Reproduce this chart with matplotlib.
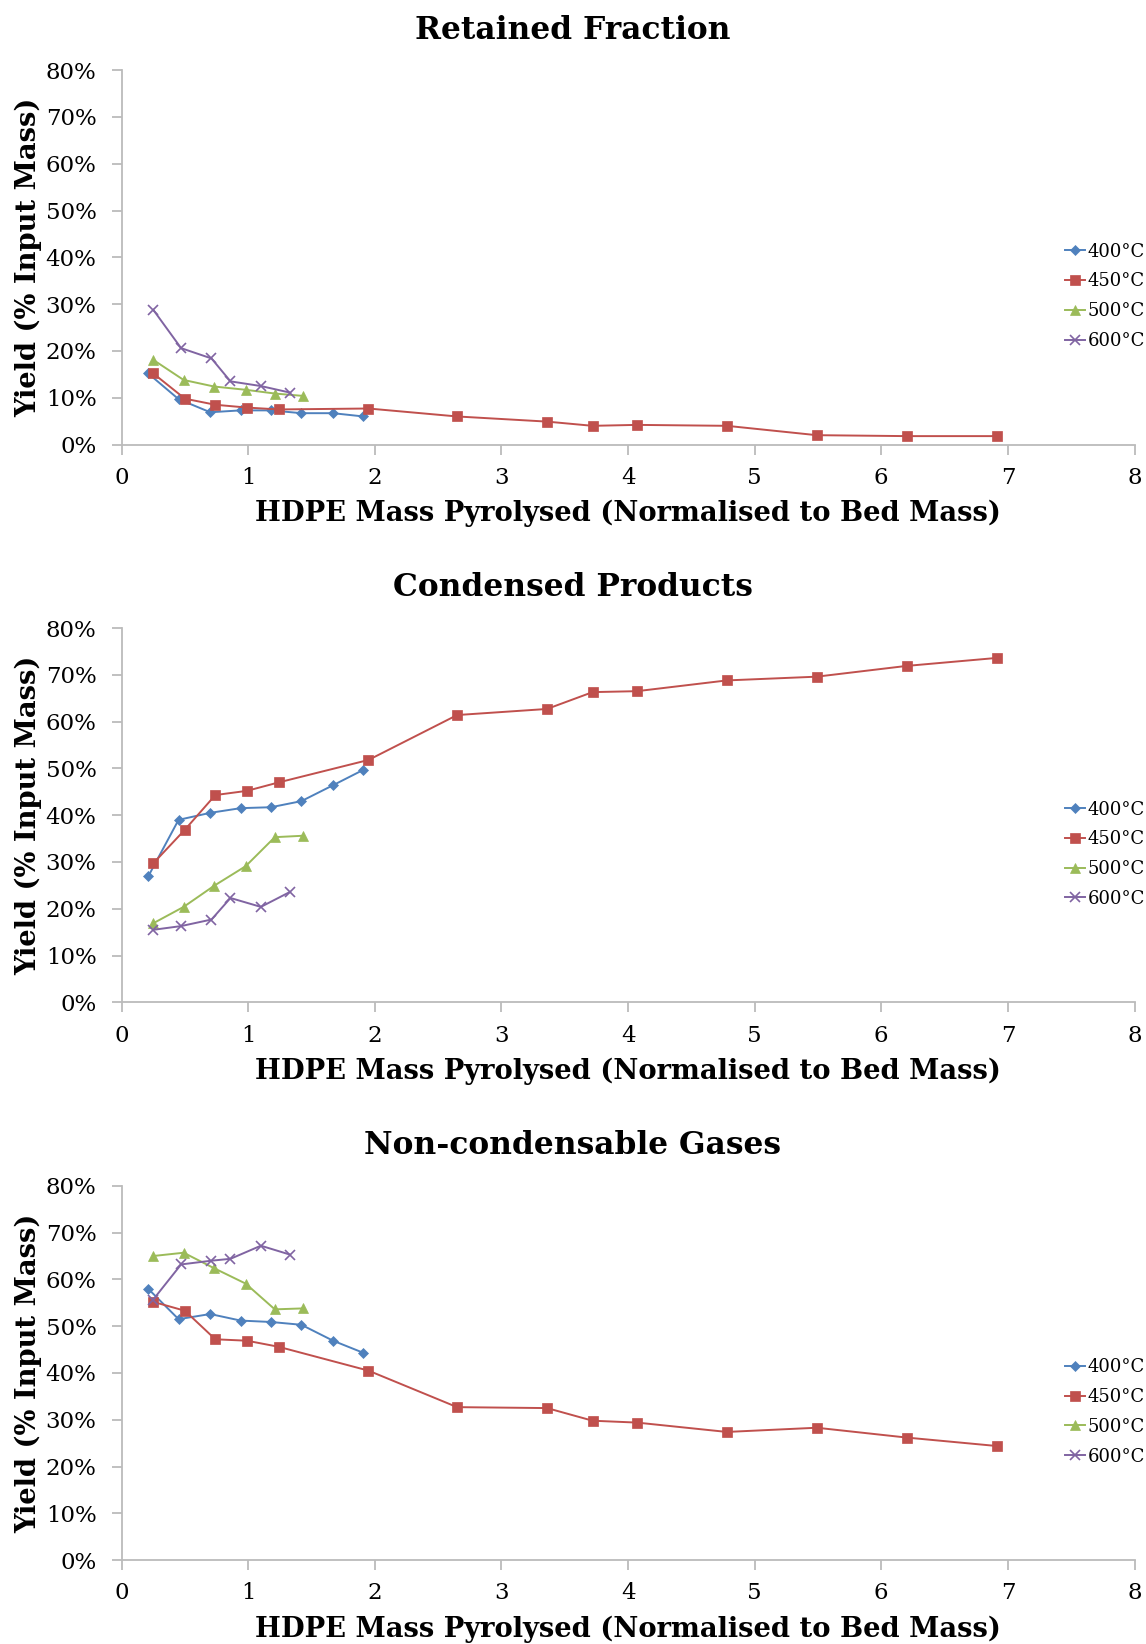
import numpy as np
import matplotlib.pyplot as plt
from matplotlib.ticker import PercentFormatter

plt.rcParams['font.family'] = ['DejaVu Serif']

# x values (HDPE mass pyrolysed, normalised to bed mass)
x_400 = [0.21, 0.45, 0.70, 0.94, 1.18, 1.42, 1.67, 1.91]
x_450 = [0.25, 0.50, 0.74, 0.99, 1.24, 1.95, 2.65, 3.36, 3.72, 4.07, 4.78, 5.49, 6.20, 6.91]
x_500 = [0.25, 0.49, 0.73, 0.98, 1.21, 1.43]
x_600 = [0.25, 0.47, 0.71, 0.86, 1.10, 1.33]

# Retained fraction (%)
ret_400 = [15.2, 9.7, 6.9, 7.3, 7.3, 6.7, 6.7, 6.0]
ret_450 = [15.2, 9.8, 8.5, 7.9, 7.5, 7.7, 6.0, 4.9, 4.0, 4.2, 4.0, 2.0, 1.8, 1.8]
ret_500 = [18.1, 13.8, 12.4, 11.7, 10.9, 10.4]
ret_600 = [28.8, 20.6, 18.4, 13.5, 12.5, 11.1]

# Condensed products (%)
con_400 = [26.9, 39.0, 40.5, 41.5, 41.7, 43.0, 46.4, 49.7]
con_450 = [29.7, 36.9, 44.3, 45.2, 47.0, 51.8, 61.4, 62.7, 66.3, 66.5, 68.8, 69.6, 71.9, 73.6]
con_500 = [16.9, 20.4, 24.9, 29.1, 35.3, 35.6]
con_600 = [15.5, 16.3, 17.7, 22.3, 20.4, 23.6]

# Non-condensable gases (%)
gas_400 = [58.0, 51.5, 52.6, 51.2, 50.9, 50.3, 46.9, 44.3]
gas_450 = [55.2, 53.3, 47.2, 46.9, 45.6, 40.5, 32.7, 32.5, 29.8, 29.4, 27.4, 28.3, 26.2, 24.4]
gas_500 = [65.0, 65.7, 62.4, 59.1, 53.6, 53.8]
gas_600 = [55.7, 63.2, 64.0, 64.4, 67.2, 65.3]

titles = ['Retained Fraction', 'Condensed Products', 'Non-condensable Gases']
panels = [
    (ret_400, ret_450, ret_500, ret_600),
    (con_400, con_450, con_500, con_600),
    (gas_400, gas_450, gas_500, gas_600),
]
labels = ['400°C', '450°C', '500°C', '600°C']
colors = ['#4F81BD', '#C0504D', '#9BBB59', '#8064A2']
markers = ['D', 's', '^', 'x']
msizes = [5, 6.5, 6.5, 7]
xs = [x_400, x_450, x_500, x_600]

fig = plt.figure(figsize=(11.46, 16.44), dpi=100)
bottoms = [0.7296, 0.3903, 0.0510]
title_y = [0.9815, 0.6428, 0.3030]
grey = '#BBBBBB'

for bottom, ty, title, series in zip(bottoms, title_y, titles, panels):
    ax = fig.add_axes([0.1061, bottom, 0.8839, 0.2277])
    for x, y, lab, c, m, ms in zip(xs, series, labels, colors, markers, msizes):
        ax.plot(x, y, color=c, marker=m, markersize=ms, linewidth=1.4,
                label=lab, markeredgewidth=1.2 if m == 'x' else 0.5)
    ax.set_xlim(0, 8)
    ax.set_ylim(0, 80)
    ax.set_xticks(range(9))
    ax.set_yticks(range(0, 81, 10))
    ax.yaxis.set_major_formatter(PercentFormatter(decimals=0))
    for s in ['top', 'right']:
        ax.spines[s].set_visible(False)
    for s in ['left', 'bottom']:
        ax.spines[s].set_color(grey)
        ax.spines[s].set_linewidth(1.3)
    ax.tick_params(colors=grey, labelcolor='black', labelsize=16.5, length=7, width=1.3)
    ax.tick_params(axis='x', pad=9)
    ax.tick_params(axis='y', pad=11)
    fig.text(0.5, ty, title, fontsize=22.5, fontweight='bold', ha='center', va='center')
    ax.set_xlabel('HDPE Mass Pyrolysed (Normalised to Bed Mass)', fontsize=19.7,
                  fontweight='bold')
    ax.xaxis.set_label_coords(0.5, -0.148)
    ax.set_ylabel('Yield (% Input Mass)', fontsize=19.7, fontweight='bold')
    ax.yaxis.set_label_coords(-0.0785, 0.5)
    ax.legend(loc='center right', bbox_to_anchor=(1.010, 0.396), frameon=False,
              fontsize=13, handlelength=1.15, handletextpad=0.1, labelspacing=0.65,
              borderaxespad=0, borderpad=0)

fig.savefig('out.png', dpi=100)
